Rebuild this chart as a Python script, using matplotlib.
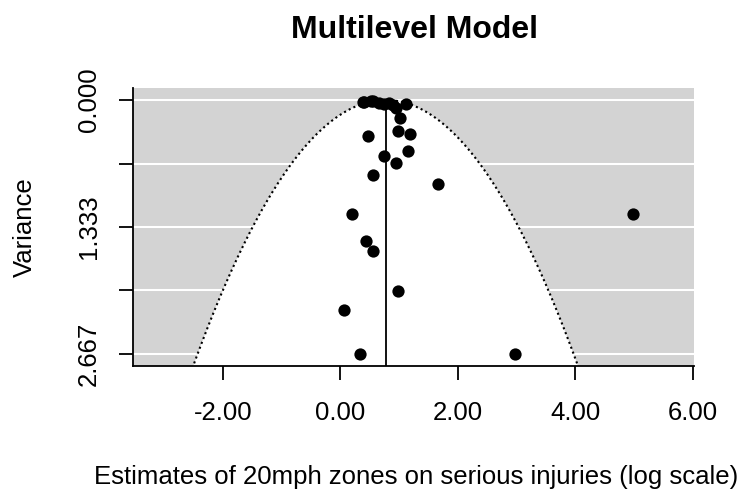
import numpy as np
import matplotlib
matplotlib.use("Agg")
import matplotlib.pyplot as plt

plt.rcParams['font.family'] = ['Liberation Sans', 'DejaVu Sans']

# Study estimates (log scale) and their sampling variances
estimates = [0.38, 0.52, 0.65, 0.82, 0.94, 1.01, 1.12, 0.41, 0.55, 0.75, 0.90,
             0.47, 0.98, 1.18, 0.74, 1.15, 0.95, 0.56, 1.66,
             0.19, 0.44, 0.56, 0.98, 0.07, 0.33, 2.97, 4.99]
variances = [0.018, 0.007, 0.035, 0.028, 0.087, 0.19, 0.045, 0.02, 0.012, 0.04, 0.055,
             0.378, 0.325, 0.36, 0.588, 0.54, 0.66, 0.79, 0.885,
             1.20, 1.48, 1.585, 2.005, 2.20, 2.667, 2.667, 1.20]
pooled = 0.77

x_ticks = [-2, 0, 2, 4, 6]
x_tick_labels = ["-2.00", "0.00", "2.00", "4.00", "6.00"]
y_ticks = [0.0, 0.667, 1.333, 2.0, 2.667]
y_tick_labels = ["0.000", "", "1.333", "", "2.667"]

fig = plt.figure(figsize=(7.41, 4.95), dpi=100)
W, H = 741, 495
L, R, T, B = 133, 694, 88, 366
ax = fig.add_axes([L / W, 1 - B / H, (R - L) / W, (B - T) / H])
ax.set_facecolor('#D3D3D3')
xmin, xmax = -3.53, 6.02
ymin, ymax = -0.126, 2.793
ax.set_xlim(xmin, xmax)
ax.set_ylim(ymax, ymin)

for yv in y_ticks:
    ax.axhline(yv, color='white', lw=1.5, zorder=1)

v = np.linspace(0, ymax, 300)
half = 1.96 * np.sqrt(v)
xs = np.concatenate([pooled - half, (pooled + half)[::-1]])
ys = np.concatenate([v, v[::-1]])
ax.fill(xs, ys, color='white', zorder=2, lw=0)
ax.plot(pooled - half, v, color='black', ls=(0, (1, 1.5)), lw=1.5, zorder=3)
ax.plot(pooled + half, v, color='black', ls=(0, (1, 1.5)), lw=1.5, zorder=3)
ax.plot([pooled, pooled], [0, ymax], color='black', lw=1.3, zorder=3)

ax.scatter(estimates, variances, s=78, color='black', zorder=4, lw=0)

fs = 18.5
ax.set_xticks(x_ticks)
ax.set_xticklabels(x_tick_labels, fontsize=fs)
ax.set_yticks(y_ticks)
ax.set_yticklabels(y_tick_labels, fontsize=fs, rotation=90, va='center')
ax.tick_params(axis='both', direction='out', length=10, width=1.3)
ax.tick_params(axis='x', pad=15)
ax.tick_params(axis='y', pad=13)
for s in ['top', 'right']:
    ax.spines[s].set_visible(False)
for s in ['left', 'bottom']:
    ax.spines[s].set_linewidth(1.3)

fig.text(25 / W, 1 - 227 / H, "Variance", rotation=90, ha='center', va='center', fontsize=fs)
fig.text(416 / W, 1 - 477 / H, "Estimates of 20mph zones on serious injuries (log scale)",
         ha='center', va='center', fontsize=fs)
fig.text(414 / W, 1 - 30 / H, "Multilevel Model", ha='center', va='center',
         fontsize=23, fontweight='bold')

fig.savefig("out.png", dpi=100)
